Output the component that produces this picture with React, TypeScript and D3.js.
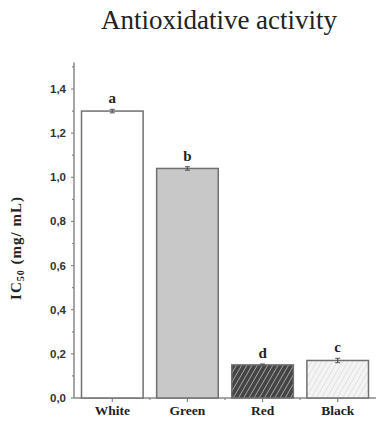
import React from 'react';
import * as d3 from 'd3';

const categories = ['White', 'Green', 'Red', 'Black'];
const values = [1.3, 1.04, 0.15, 0.17];
const errors = [0.008, 0.008, 0.004, 0.01];
const letters = ['a', 'b', 'd', 'c'];
const yTicks = [0, 0.2, 0.4, 0.6, 0.8, 1.0, 1.2, 1.4];
const yMinor = [0.1, 0.3, 0.5, 0.7, 0.9, 1.1, 1.3, 1.5];

const W = 378;
const H = 423;

const App = () => {
  const x = d3.scaleBand<string>()
    .domain(categories)
    .range([74, 376])
    .paddingInner(0.18)
    .paddingOuter(0.1);

  const y = d3.scaleLinear().domain([0, 1.4]).range([398, 89]);

  const fmt = (v: number) => d3.format('.1f')(v).replace('.', ',');

  const fills = ['#ffffff', '#c8c8c8', 'url(#hatchDark)', 'url(#hatchLight)'];
  const serif = '"Liberation Serif", "Times New Roman", serif';
  const sans = '"Liberation Sans", Arial, sans-serif';

  // minor ticks between bars on the x axis
  const xMinor = categories.slice(1).map(c => (x(c) as number) - (x.step() - x.bandwidth()) / 2);

  return (
    <svg width={W} height={H} style={{ position: 'absolute', left: 0, top: 0, background: '#fff' }}>
      <defs>
        <pattern id="hatchDark" patternUnits="userSpaceOnUse" width="4.5" height="4.5" patternTransform="rotate(30)">
          <rect width="4.5" height="4.5" fill="#444" />
          <line x1="0" y1="0" x2="0" y2="4.5" stroke="#e0e0e0" strokeWidth="1.1" />
        </pattern>
        <pattern id="hatchLight" patternUnits="userSpaceOnUse" width="4.5" height="4.5" patternTransform="rotate(30)">
          <rect width="4.5" height="4.5" fill="#f4f4f4" />
          <line x1="0" y1="0" x2="0" y2="4.5" stroke="#d2d2d2" strokeWidth="1.1" />
        </pattern>
      </defs>

      <text x={219} y={29} textAnchor="middle" fontFamily={serif} fontSize={27} fill="#222">
        Antioxidative activity
      </text>

      {/* y axis */}
      <line x1={74} x2={74} y1={y(1.52)} y2={y(0)} stroke="#888" strokeWidth={1.5} />
      {yTicks.map(t => (
        <g key={t}>
          <line x1={71} x2={74} y1={y(t)} y2={y(t)} stroke="#888" strokeWidth={1.2} />
          <text x={66} y={y(t)} dy="0.35em" textAnchor="end" fontFamily={sans} fontWeight="bold" fontSize={11.5} fill="#333">
            {fmt(t)}
          </text>
        </g>
      ))}
      {yMinor.map(t => (
        <line key={t} x1={72} x2={74} y1={y(t)} y2={y(t)} stroke="#888" strokeWidth={1.2} />
      ))}

      <text transform={`translate(21,${248}) rotate(-90)`} textAnchor="middle" fontFamily={serif} fontWeight="bold" fontSize={15} letterSpacing={1} fill="#222">
        IC<tspan fontSize={10} dy={3}>50</tspan><tspan dy={-3}> (mg/ mL)</tspan>
      </text>

      {/* x axis */}
      <line x1={74} x2={376} y1={y(0)} y2={y(0)} stroke="#888" strokeWidth={1.5} />
      {categories.map(c => {
        const cx = (x(c) as number) + x.bandwidth() / 2;
        return (
          <g key={c}>
            <line x1={cx} x2={cx} y1={y(0)} y2={y(0) + 4} stroke="#888" strokeWidth={1.2} />
            <text x={cx} y={415} textAnchor="middle" fontFamily={serif} fontWeight="bold" fontSize={13.5} fill="#222">
              {c}
            </text>
          </g>
        );
      })}
      {xMinor.map((m, i) => (
        <line key={i} x1={m} x2={m} y1={y(0)} y2={y(0) + 2} stroke="#888" strokeWidth={1.2} />
      ))}

      {/* bars */}
      {categories.map((c, i) => {
        const bx = x(c) as number;
        const cx = bx + x.bandwidth() / 2;
        const top = y(values[i]);
        return (
          <g key={c}>
            <rect x={bx} y={top} width={x.bandwidth()} height={y(0) - top}
              fill={fills[i]} stroke="#707070" strokeWidth={1.5} />
            <line x1={cx} x2={cx} y1={y(values[i] + errors[i])} y2={y(values[i] - errors[i])} stroke="#555" strokeWidth={1.2} />
            <line x1={cx - 2.5} x2={cx + 2.5} y1={y(values[i] + errors[i])} y2={y(values[i] + errors[i])} stroke="#555" strokeWidth={1} />
            <line x1={cx - 2.5} x2={cx + 2.5} y1={y(values[i] - errors[i])} y2={y(values[i] - errors[i])} stroke="#555" strokeWidth={1} />
            <text x={cx} y={y(values[i] + errors[i]) - 6} textAnchor="middle" fontFamily={serif} fontWeight="bold" fontSize={15} fill="#222">
              {letters[i]}
            </text>
          </g>
        );
      })}
    </svg>
  );
};

export default App;
